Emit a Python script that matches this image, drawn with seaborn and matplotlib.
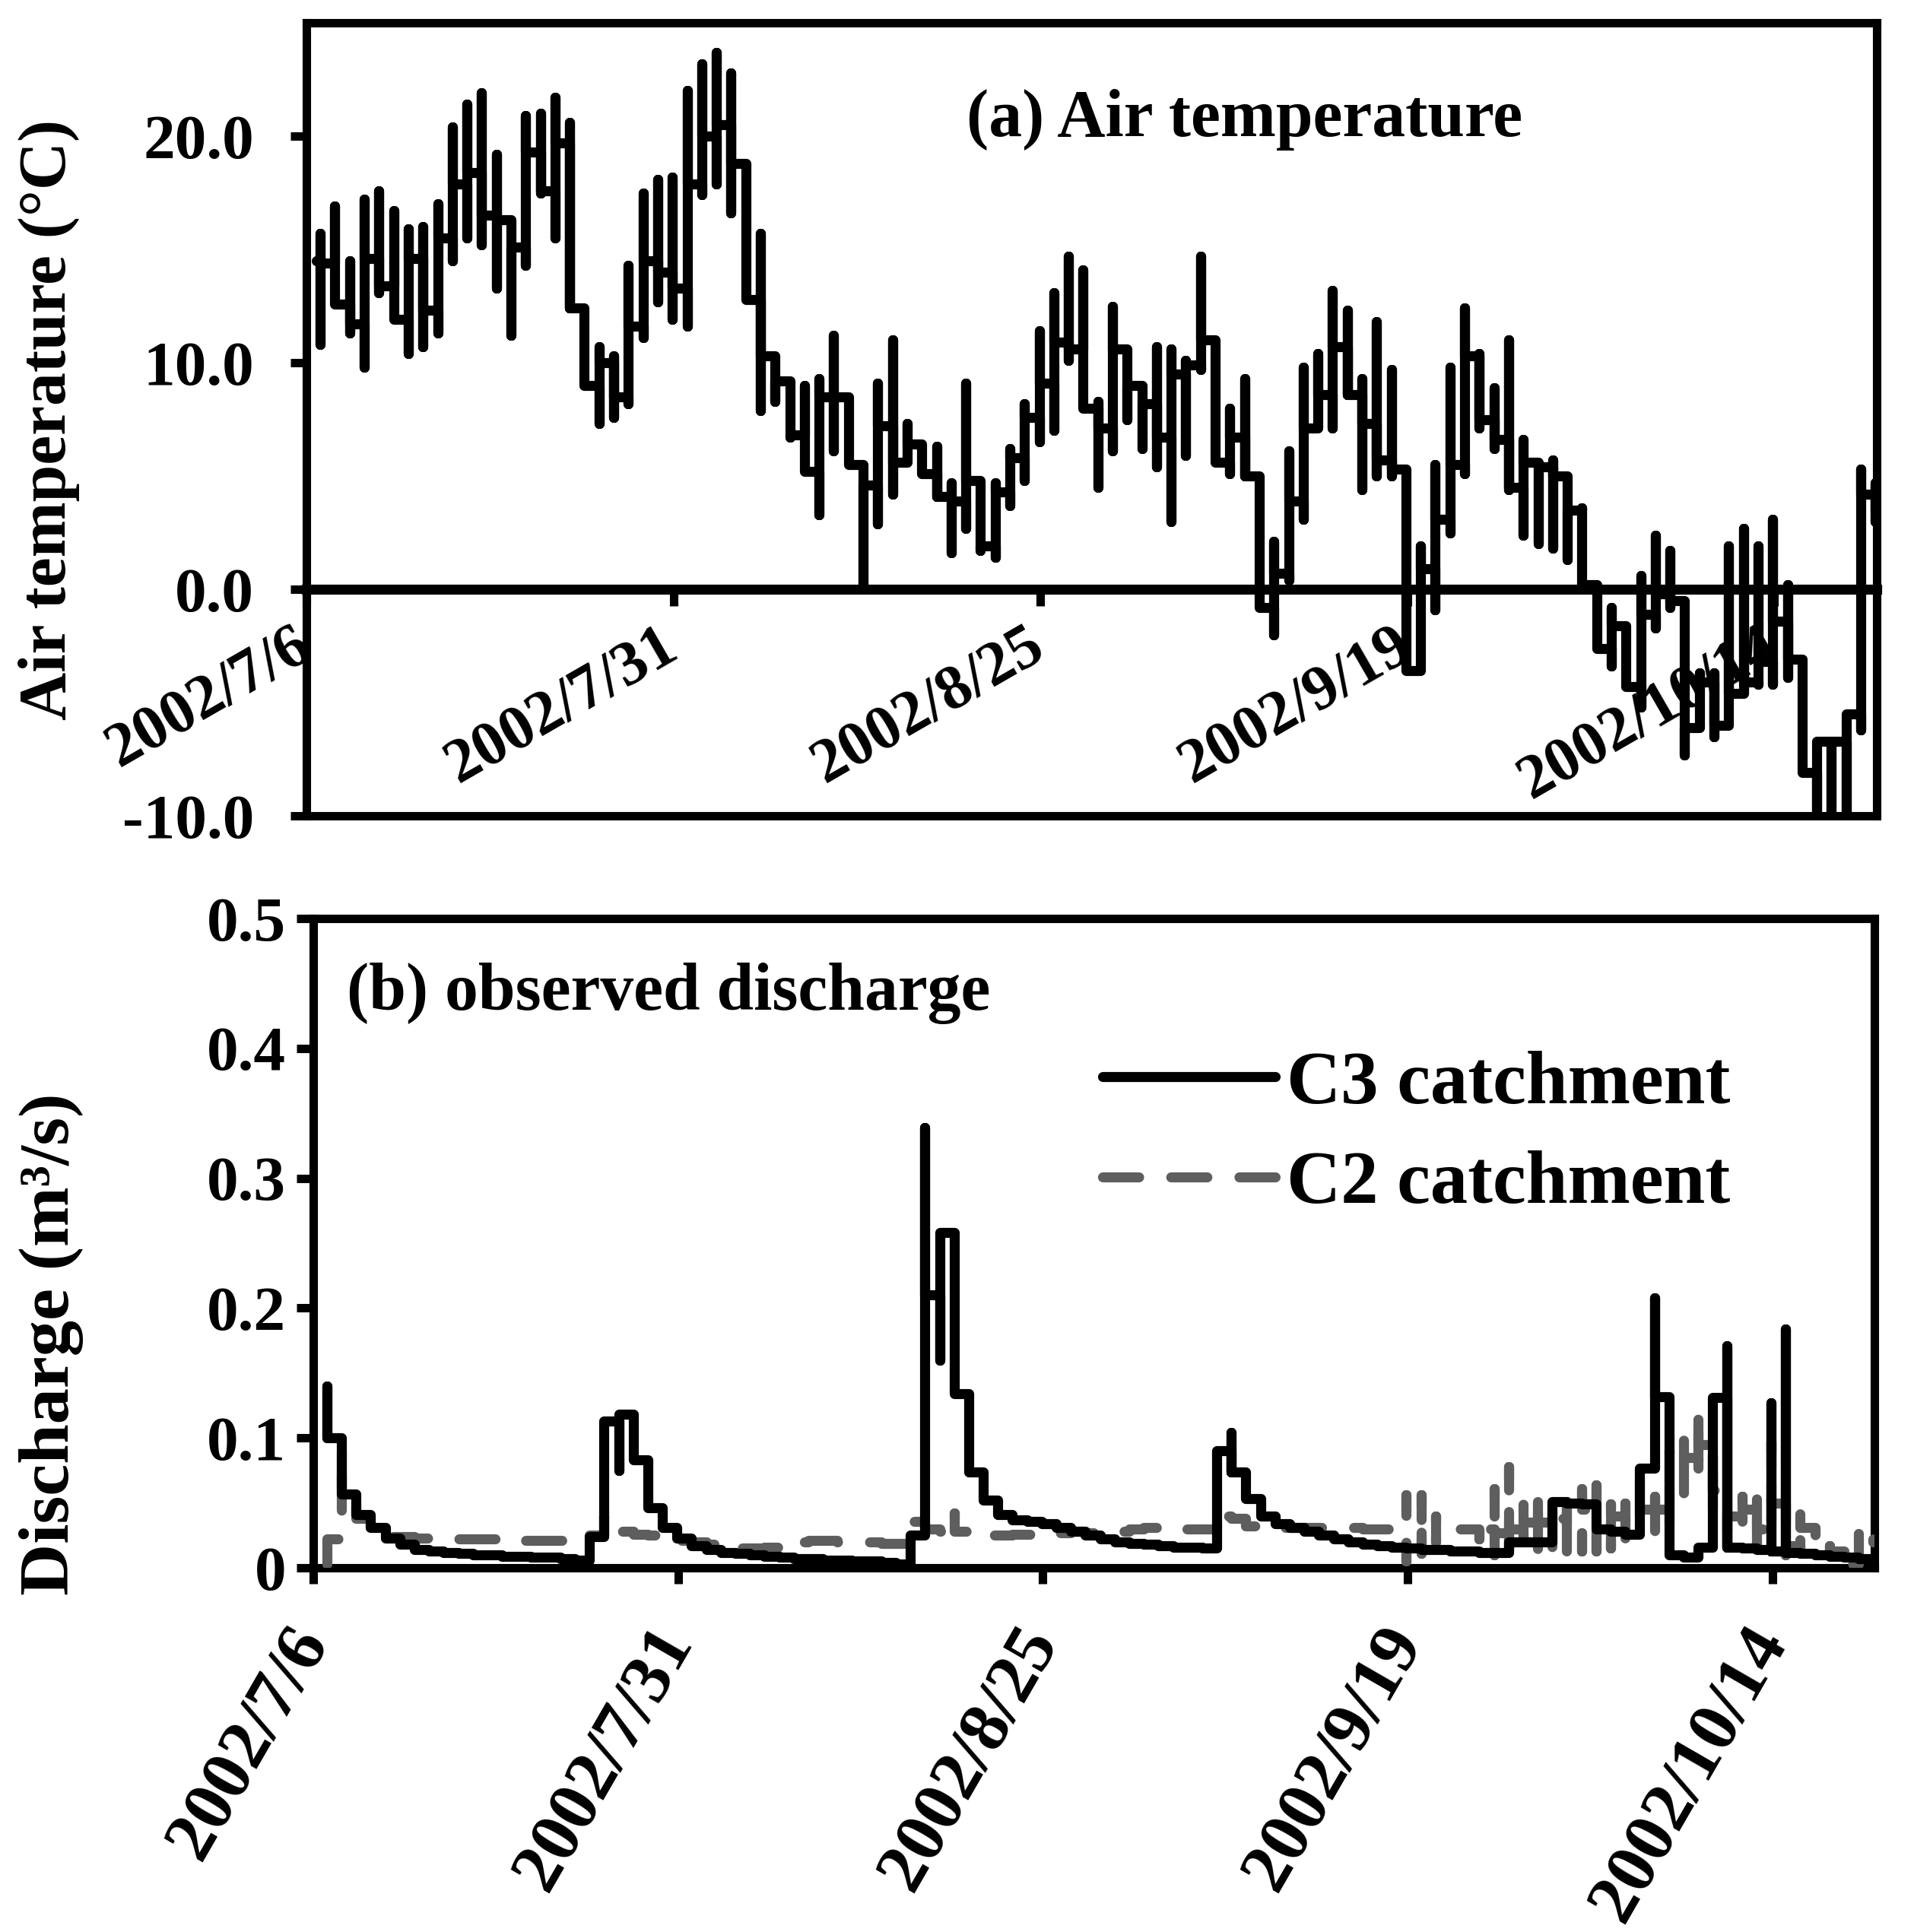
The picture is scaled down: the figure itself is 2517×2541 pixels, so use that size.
import pandas as pd
import matplotlib
matplotlib.use("Agg")
import matplotlib.pyplot as plt
import matplotlib.dates as mdates
from matplotlib.ticker import FuncFormatter, FixedLocator
import seaborn as sns

# Daily records, first one on 2002/7/6 late evening
start = pd.Timestamp("2002-07-06 22:00")
n_days = 107

# (a) Air temperature: level before the first record, then daily high / low / level
temp_first = 14.5
temp_high = [15.7, 16.9, 14.5, 17.2, 17.6, 16.7, 15.9, 16.0, 17.0, 20.4,
             21.4, 21.9, 19.2, 16.3, 20.9, 21.0, 21.7, 20.6, 12.4, 10.7,
             10.3, 14.3, 17.5, 18.1, 18.2, 22.0, 23.2, 23.7, 22.8, 18.8,
             15.7, 9.7, 9.1, 9.0, 9.3, 11.2, 8.5, 5.5, 9.1, 11.0,
             7.3, 6.4, 6.3, 4.7, 9.1, 4.7, 4.7, 6.2, 8.2, 11.4,
             13.1, 14.7, 14.1, 8.3, 12.5, 10.6, 9.0, 10.7, 10.6, 10.1,
             14.7, 11.0, 8.0, 9.3, 5.0, 2.1, 6.1, 9.8, 10.4, 13.2,
             12.3, 9.3, 11.8, 9.7, 5.3, 1.9, 5.5, 9.8, 12.4, 10.4,
             8.9, 11.0, 6.6, 5.6, 5.7, 5.0, 3.6, 0.2, -0.8, -1.6,
             0.6, 2.4, 1.7, -0.5, -3.7, -3.7, 1.9, 2.7, 1.9, 3.1,
             0.2, -3.1, -6.7, -6.7, -5.5, 5.3, 4.7]
temp_low = [10.8, 12.8, 11.3, 9.8, 13.1, 12.4, 10.4, 10.7, 11.3, 14.5,
            15.5, 15.2, 13.3, 11.2, 14.3, 17.5, 15.5, 12.4, 9.0, 7.3,
            7.6, 8.2, 11.1, 12.7, 11.9, 11.6, 17.4, 17.9, 16.6, 12.8,
            7.9, 8.3, 6.7, 5.3, 3.3, 6.1, 5.9, 0.0, 2.9, 4.2,
            5.6, 5.2, 4.1, 1.6, 2.7, 1.7, 1.4, 3.7, 4.8, 6.5,
            7.0, 10.1, 8.5, 4.5, 6.1, 7.5, 6.2, 5.4, 3.0, 5.9,
            9.7, 5.6, 5.1, 5.0, -0.6, -2.0, 0.4, 3.1, 7.2, 7.1,
            8.6, 4.4, 5.0, 5.0, -3.2, -3.6, -0.9, 2.5, 5.1, 7.1,
            6.2, 4.4, 2.4, 2.0, 1.8, 1.3, 0.4, -2.6, -3.4, -4.3,
            -5.2, -1.7, -0.8, -7.3, -6.1, -6.5, -5.8, -4.0, -4.2, -4.2,
            -3.9, -8.1, -10.5, -11.0, -11.0, -6.2, 3.0]
temp_level = [14.4, 12.6, 11.7, 14.6, 13.4, 11.9, 14.6, 12.3, 15.5, 17.9,
              18.4, 16.5, 16.3, 15.1, 19.3, 17.6, 19.7, 12.4, 9.0, 10.0,
              8.5, 11.6, 14.5, 14.0, 13.3, 17.9, 20.0, 20.5, 18.8, 12.8,
              10.3, 9.2, 6.8, 5.2, 8.5, 8.5, 5.5, 4.6, 7.2, 5.6,
              6.4, 5.1, 4.1, 3.9, 4.8, 1.9, 4.3, 5.8, 7.6, 9.1,
              10.9, 10.6, 8.0, 7.1, 10.6, 9.0, 8.2, 6.7, 9.5, 9.9,
              11.0, 5.6, 6.7, 5.0, -0.8, 0.7, 3.9, 7.1, 8.6, 10.7,
              8.6, 7.3, 5.7, 5.3, -3.6, 0.9, 3.1, 5.5, 10.3, 7.5,
              6.6, 4.5, 5.6, 5.4, 5.0, 3.5, 0.2, -2.6, -1.6, -4.3,
              -1.1, -0.2, -0.5, -6.1, -4.1, -6.0, -4.6, -4.1, -3.2, -1.4,
              -3.1, -8.1, -6.7, -6.7, -5.5, 4.2, 3.5]

# (b) Observed discharge (m3/s), C3 catchment
q3_level = [0.100, 0.057, 0.041, 0.031, 0.023, 0.018, 0.014, 0.013, 0.012, 0.011,
            0.010, 0.010, 0.009, 0.009, 0.008, 0.008, 0.007, 0.006, 0.024, 0.113,
            0.118, 0.083, 0.046, 0.031, 0.023, 0.017, 0.014, 0.012, 0.011, 0.010,
            0.009, 0.008, 0.007, 0.007, 0.006, 0.006, 0.005, 0.005, 0.004, 0.003,
            0.025, 0.210, 0.258, 0.134, 0.074, 0.052, 0.041, 0.037, 0.036, 0.034,
            0.031, 0.028, 0.025, 0.022, 0.020, 0.019, 0.018, 0.017, 0.016, 0.016,
            0.015, 0.090, 0.074, 0.053, 0.040, 0.034, 0.031, 0.028, 0.025, 0.022,
            0.020, 0.018, 0.017, 0.016, 0.015, 0.014, 0.014, 0.013, 0.013, 0.012,
            0.012, 0.020, 0.020, 0.020, 0.051, 0.050, 0.049, 0.030, 0.028, 0.026,
            0.077, 0.132, 0.010, 0.008, 0.016, 0.131, 0.016, 0.015, 0.014, 0.013,
            0.012, 0.011, 0.010, 0.009, 0.008, 0.007, 0.006]
q3_peak = {0: 0.140, 41: 0.339, 62: 0.104, 91: 0.208, 96: 0.171, 99: 0.127, 100: 0.184}
q3_dip = {20: 0.075, 42: 0.160}

# C2 catchment
q2_level = [0.022, 0.053, 0.038, 0.025, 0.024, 0.024, 0.023, 0.023, 0.023, 0.022,
            0.022, 0.022, 0.022, 0.021, 0.021, 0.021, 0.021, 0.022, 0.025, 0.029,
            0.028, 0.026, 0.025, 0.023, 0.021, 0.020, 0.018, 0.016, 0.015, 0.015,
            0.016, 0.018, 0.020, 0.021, 0.021, 0.020, 0.020, 0.020, 0.019, 0.019,
            0.036, 0.030, 0.028, 0.028, 0.026, 0.025, 0.025, 0.026, 0.026, 0.027,
            0.027, 0.028, 0.027, 0.027, 0.028, 0.030, 0.031, 0.031, 0.030, 0.030,
            0.030, 0.040, 0.038, 0.032, 0.031, 0.031, 0.031, 0.031, 0.031, 0.031,
            0.031, 0.030, 0.030, 0.030, 0.029, 0.029, 0.030, 0.030, 0.030, 0.030,
            0.027, 0.030, 0.035, 0.035, 0.038, 0.040, 0.045, 0.040, 0.040, 0.038,
            0.045, 0.045, 0.065, 0.085, 0.095, 0.060, 0.040, 0.045, 0.030, 0.050,
            0.017, 0.031, 0.016, 0.013, 0.003, 0.025, 0.020]
q2_spikes = {0: (0.003, 0.022), 1: (0.040, 0.093), 19: (0.025, 0.040), 43: (0.026, 0.042),
             61: (0.030, 0.045), 74: (0.005, 0.056), 75: (0.011, 0.056), 76: (0.020, 0.040),
             79: (0.022, 0.037), 80: (0.010, 0.061), 81: (0.002, 0.078), 82: (0.022, 0.050),
             83: (0.011, 0.059), 84: (0.013, 0.049), 85: (0.011, 0.051), 86: (0.013, 0.061),
             87: (0.013, 0.064), 88: (0.015, 0.049), 89: (0.017, 0.050), 90: (0.040, 0.069),
             91: (0.024, 0.055), 92: (0.030, 0.091), 93: (0.055, 0.104), 94: (0.067, 0.122),
             95: (0.040, 0.099), 96: (0.010, 0.060), 97: (0.030, 0.055), 98: (0.015, 0.058),
             99: (0.024, 0.097), 100: (0.010, 0.027), 101: (0.015, 0.044), 102: (0.016, 0.029),
             103: (0.010, 0.017), 104: (-0.003, 0.013), 105: (0.003, 0.031)}

x_ticks = ["2002-07-06", "2002-07-31", "2002-08-25", "2002-09-19", "2002-10-14"]
x_range = ("2002-07-06", "2002-10-21")

times = pd.date_range(start, periods=n_days, freq="D")


def step_path(levels, lows, highs, first=None, first_time=None):
    # each record: vertical stroke low->high at its time, then hold its level
    xs, ys = [], []
    prev = None
    if first is not None:
        xs.append(first_time)
        ys.append(first)
        prev = first
    for t, lv, lo, hi in zip(times, levels, lows, highs):
        if prev is not None:
            xs.append(t)
            ys.append(prev)
        xs += [t, t, t]
        ys += [lo, hi, lv]
        prev = lv
    return pd.DataFrame({"time": xs, "value": ys})


df_temp = step_path(temp_level, temp_low, temp_high,
                    first=temp_first, first_time=pd.Timestamp("2002-07-06 15:00"))
q3_low = [q3_dip.get(i, v) for i, v in enumerate(q3_level)]
q3_high = [q3_peak.get(i, v) for i, v in enumerate(q3_level)]
df_c3 = step_path(q3_level, q3_low, q3_high)
q2_low = [q2_spikes[i][0] if i in q2_spikes else v for i, v in enumerate(q2_level)]
q2_high = [q2_spikes[i][1] if i in q2_spikes else v for i, v in enumerate(q2_level)]
df_c2 = step_path(q2_level, q2_low, q2_high)

sns.set_theme(style="ticks", rc={"text.color": "black", "axes.labelcolor": "black",
                                 "axes.edgecolor": "black", "xtick.color": "black",
                                 "ytick.color": "black"})
plt.rcParams["font.family"] = ["Liberation Serif", "DejaVu Serif"]
plt.rcParams["font.weight"] = "bold"

frame_lw = 8
data_lw = 9.5

fig = plt.figure(figsize=(25.17, 25.41), dpi=100)
ax1 = fig.add_axes([0.1603, 0.5777, 0.8202, 0.4105])
ax2 = fig.add_axes([0.1638, 0.1885, 0.8155, 0.3361])

line_kw = dict(estimator=None, sort=False, solid_joinstyle="round",
               solid_capstyle="round")

# Panel (a)
sns.lineplot(data=df_temp, x="time", y="value", ax=ax1, color="black",
             lw=data_lw, zorder=3, **line_kw)
ax1.set_ylim(-10, 25)
ax1.set_xlim(pd.Timestamp(x_range[0]), pd.Timestamp(x_range[1]))
ax1.yaxis.set_major_locator(FixedLocator([-10, 0, 10, 20]))
ax1.yaxis.set_major_formatter(FuncFormatter(lambda v, p: f"{v:.1f}"))
ax1.spines["bottom"].set_position(("data", 0))
ax1.spines["bottom"].set_linewidth(data_lw)
for s in ["top", "left", "right"]:
    ax1.spines[s].set_linewidth(frame_lw)
ax1.axhline(-10, color="black", lw=frame_lw, clip_on=False, zorder=5)
ax1.text(0.420, 0.857, "(a) Air temperature", transform=ax1.transAxes,
         fontsize=63, fontweight="bold", ha="left", va="baseline")
ax1.set_ylabel("Air temperature (°C)", fontsize=63, fontweight="bold", va="center")
ax1.yaxis.set_label_coords(-0.164, 0.5)
ax1.tick_params(axis="y", direction="out", length=15, width=8, labelsize=60, pad=35)
ax1.tick_params(axis="x", direction="out", length=16, width=8, labelsize=60, pad=34)

# Panel (b)
sns.lineplot(data=df_c3, x="time", y="value", ax=ax2, color="black",
             lw=data_lw, zorder=4, label="C3 catchment", **line_kw)
sns.lineplot(data=df_c2, x="time", y="value", ax=ax2, color="#5e5e5e",
             lw=data_lw, zorder=3, label="C2 catchment", linestyle=(0, (3.6, 3.2)),
             dash_capstyle="round", dash_joinstyle="round",
             estimator=None, sort=False)
ax2.set_ylim(0, 0.5)
ax2.set_xlim(pd.Timestamp(x_range[0]), pd.Timestamp(x_range[1]))
ax2.yaxis.set_major_locator(FixedLocator([0, 0.1, 0.2, 0.3, 0.4, 0.5]))
ax2.yaxis.set_major_formatter(FuncFormatter(lambda v, p: "0" if abs(v) < 1e-9 else f"{v:.1f}"))
for s in ax2.spines.values():
    s.set_linewidth(frame_lw)
ax2.text(0.0212, 0.859, "(b) observed discharge", transform=ax2.transAxes,
         fontsize=63, fontweight="bold", ha="left", va="baseline")
ax2.set_ylabel("Discharge (m³/s)", fontsize=68, fontweight="bold", va="center")
ax2.yaxis.set_label_coords(-0.168, 0.344)
ax2.tick_params(axis="y", direction="out", length=16, width=8, labelsize=60, pad=10)
ax2.tick_params(axis="x", direction="out", length=15, width=8, labelsize=68, pad=46)
ax2.legend(loc="center left", bbox_to_anchor=(0.5056, 0.667), frameon=False,
           handlelength=2.3, handletextpad=0.15, labelspacing=0.42,
           borderpad=0, borderaxespad=0, prop={"weight": "bold", "size": 71})

date_fmt = FuncFormatter(lambda v, p: "{0.year}/{0.month}/{0.day}".format(mdates.num2date(v)))
for ax, rot in [(ax1, 30), (ax2, 60)]:
    ax.xaxis.set_major_locator(FixedLocator([mdates.date2num(pd.Timestamp(d)) for d in x_ticks]))
    ax.xaxis.set_major_formatter(date_fmt)
    ax.set_xlabel("")
    for lab in ax.get_xticklabels():
        lab.set_rotation(rot)
        lab.set_ha("right")
        lab.set_va("center")
        lab.set_rotation_mode("anchor")
        lab.set_fontweight("bold")
    for lab in ax.get_yticklabels():
        lab.set_fontweight("bold")

fig.savefig("out.png", dpi=100, facecolor="white")
